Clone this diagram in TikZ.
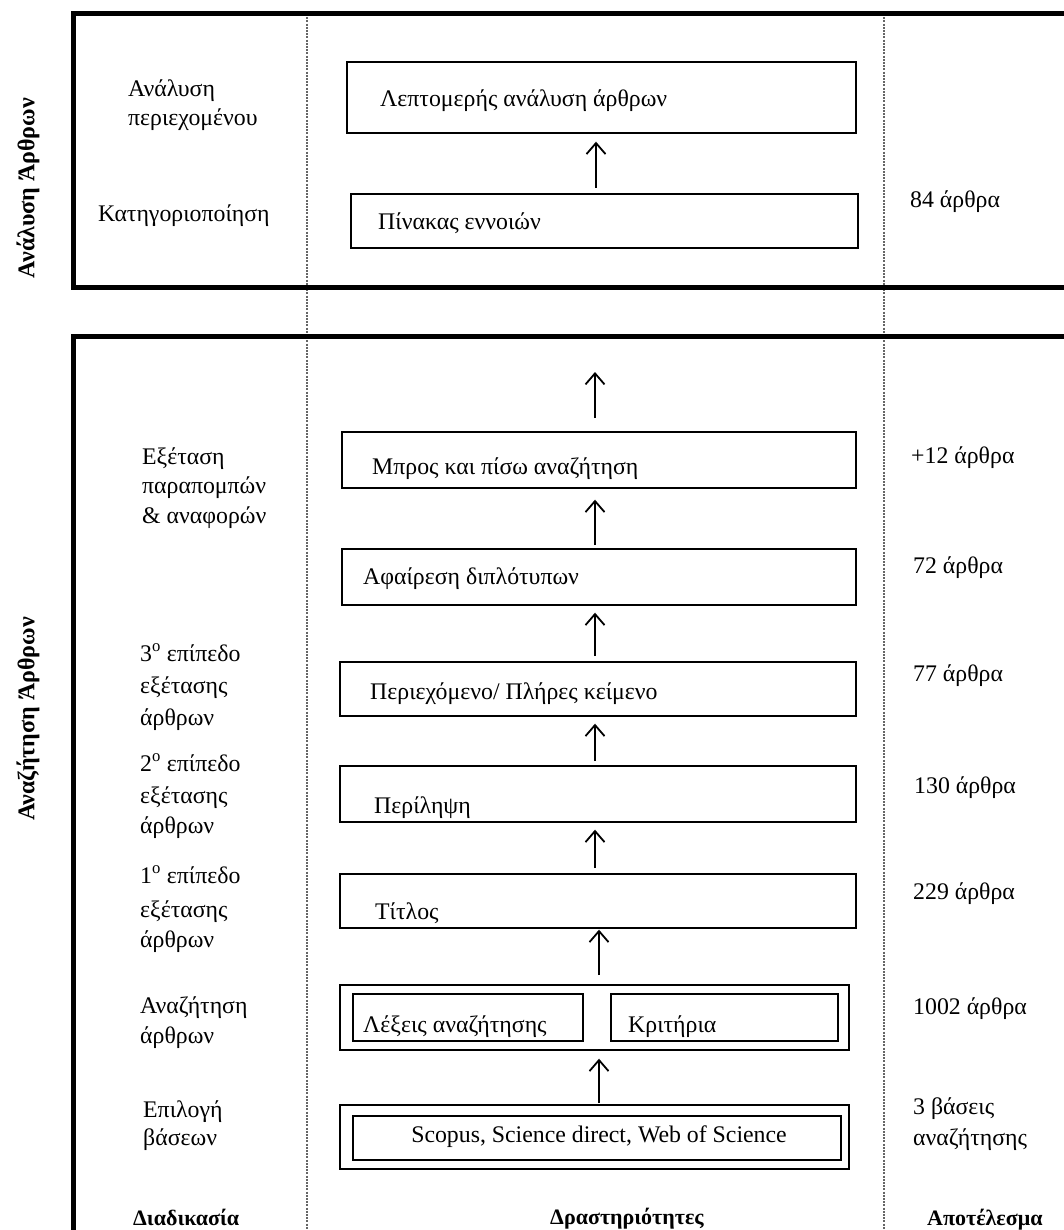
\documentclass[tikz,border=0pt]{standalone}
\usepackage{fontspec}
\setmainfont{Liberation Serif}
\usetikzlibrary{arrows.meta}
\begin{document}
\begin{tikzpicture}[x=1pt,y=-1pt,
  box/.style={draw, line width=1.7pt, rectangle, inner sep=0pt, anchor=north west},
  txt/.style={anchor=base west, inner sep=0pt, font=\fontsize{23.8}{28}\selectfont},
  res/.style={txt},
  head/.style={anchor=base west, inner sep=0pt, font=\bfseries\fontsize{22}{26}\selectfont},
  side/.style={rotate=90, inner sep=0pt, font=\bfseries\fontsize{24}{28}\selectfont},
  arr/.style={line width=1.8pt, -{Straight Barb[length=11pt,width=19pt,line width=1.8pt]}},
  frame/.style={line width=5pt},
  colsep/.style={line width=1.8pt, black!60, dash pattern=on 2pt off 1.2pt}]
\useasboundingbox (0,0) rectangle (1064,1230);
\clip (0,0) rectangle (1064,1230);

% column separators
\draw[colsep] (307,14) -- (307,1240);
\draw[colsep] (884,14) -- (884,1240);

% frames
\draw[frame] (1075,14) -- (73,14) -- (73,288) -- (1075,288);
\draw[frame] (1075,336) -- (73,336) -- (73,1245);

% side titles
\node[side] (s1) at (28,188) {Ανάλυση Άρθρων};
\node[side] (s2) at (28,719) {Αναζήτηση Άρθρων};

% boxes
\node[box, minimum width=509pt, minimum height=71pt] (b1) at (346,61) {};
\node[box, minimum width=507pt, minimum height=54pt] (b2) at (350,193) {};
\node[box, minimum width=514pt, minimum height=56pt] (b3) at (341,431) {};
\node[box, minimum width=514pt, minimum height=56pt] (b4) at (341,548) {};
\node[box, minimum width=516pt, minimum height=54pt] (b5) at (339,661) {};
\node[box, minimum width=516pt, minimum height=56pt] (b6) at (339,765) {};
\node[box, minimum width=516pt, minimum height=54pt] (b7) at (339,873) {};
\node[box, minimum width=509pt, minimum height=65pt] (b8) at (339,984) {};
\node[box, minimum width=230pt, minimum height=47pt] (b8a) at (352,993) {};
\node[box, minimum width=227pt, minimum height=47pt] (b8b) at (610,993) {};
\node[box, minimum width=509pt, minimum height=64pt] (b9) at (339,1104) {};
\node[box, minimum width=488pt, minimum height=44pt] (b9a) at (352,1115) {};

% box texts
\node[txt] (t1) at (380,107) {Λεπτομερής ανάλυση άρθρων};
\node[txt] (t2) at (378,230) {Πίνακας εννοιών};
\node[txt] (t3) at (372,474) {Μπρος και πίσω αναζήτηση};
\node[txt] (t4) at (363,584) {Αφαίρεση διπλότυπων};
\node[txt] (t5) at (370,699) {Περιεχόμενο/ Πλήρες κείμενο};
\node[txt] (t6) at (374,813) {Περίληψη};
\node[txt] (t7) at (375,919) {Τίτλος};
\node[txt] (t8a) at (363,1032) {Λέξεις αναζήτησης};
\node[txt] (t8b) at (628,1032) {Κριτήρια};
\node[txt, anchor=base] (t9) at (599,1142) {Scopus, Science direct, Web of Science};

% arrows
\coordinate (axA) at (596,0);
\coordinate (axB) at (595,0);
\coordinate (axC) at (599,0);
\coordinate (freetop) at (595,372);
\draw[arr, shorten <=5pt, shorten >=8pt] (b2.north -| axA) -- (b1.south -| axA);
\draw[arr, shorten <=13pt] (b3.north -| axB) -- (freetop);
\draw[arr, shorten <=3pt, shorten >=11pt] (b4.north -| axB) -- (b3.south -| axB);
\draw[arr, shorten <=5pt, shorten >=7pt] (b5.north -| axB) -- (b4.south -| axB);
\draw[arr, shorten <=4pt, shorten >=7pt] (b6.north -| axB) -- (b5.south -| axB);
\draw[arr, shorten <=5pt, shorten >=7pt] (b7.north -| axB) -- (b6.south -| axB);
\draw[arr, shorten <=9pt, shorten >=1pt] (b8.north -| axC) -- (b7.south -| axC);
\draw[arr, shorten <=1pt, shorten >=8pt] (b9.north -| axC) -- (b8.south -| axC);

% process labels (left column)
\node[txt] (p1a) at (128,97) {Ανάλυση};
\node[txt] (p1b) at (128,126) {περιεχομένου};
\node[txt] (p2) at (98,222) {Κατηγοριοποίηση};
\node[txt] (p3a) at (142,464) {Εξέταση};
\node[txt] (p3b) at (142,493) {παραπομπών};
\node[txt] (p3c) at (142,523) {\& αναφορών};
\node[txt] (p4a) at (140,661) {3\textsuperscript{ο} επίπεδο};
\node[txt] (p4b) at (140,693) {εξέτασης};
\node[txt] (p4c) at (140,725) {άρθρων};
\node[txt] (p5a) at (140,771) {2\textsuperscript{ο} επίπεδο};
\node[txt] (p5b) at (140,803) {εξέτασης};
\node[txt] (p5c) at (140,833) {άρθρων};
\node[txt] (p6a) at (140,883) {1\textsuperscript{ο} επίπεδο};
\node[txt] (p6b) at (140,917) {εξέτασης};
\node[txt] (p6c) at (140,947) {άρθρων};
\node[txt] (p7a) at (140,1013) {Αναζήτηση};
\node[txt] (p7b) at (140,1043) {άρθρων};
\node[txt] (p8a) at (143,1117) {Επιλογή};
\node[txt] (p8b) at (143,1145) {βάσεων};

% results (right column)
\node[res] (r1) at (910,208) {84 άρθρα};
\node[res] (r2) at (911,463) {+12 άρθρα};
\node[res] (r3) at (913,573) {72 άρθρα};
\node[res] (r4) at (913,681) {77 άρθρα};
\node[res] (r5) at (914,793) {130 άρθρα};
\node[res] (r6) at (913,899) {229 άρθρα};
\node[res] (r7) at (913,1014) {1002 άρθρα};
\node[res] (r8a) at (913,1114) {3 βάσεις};
\node[res] (r8b) at (913,1145) {αναζήτησης};

% column headings
\node[head] (h1) at (133,1225) {Διαδικασία};
\node[head] (h2) at (550,1224) {Δραστηριότητες};
\node[head] (h3) at (927,1225) {Αποτέλεσμα};
\end{tikzpicture}
\end{document}
